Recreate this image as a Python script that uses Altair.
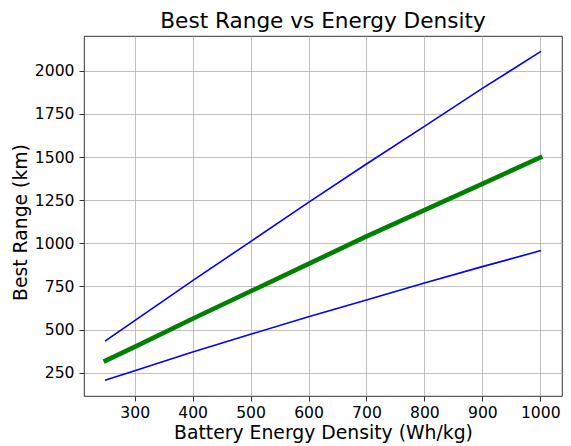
import altair as alt
import pandas as pd

density = [250, 300, 400, 500, 600, 700, 800, 900, 1000]
upper = [436, 552, 784, 1010, 1238, 1460, 1678, 1898, 2110]
best = [320, 400, 563, 722, 881, 1040, 1193, 1345, 1498]
lower = [208, 262, 370, 473, 574, 672, 770, 865, 957]

x_ticks = [300, 400, 500, 600, 700, 800, 900, 1000]
y_ticks = [250, 500, 750, 1000, 1250, 1500, 1750, 2000]

rows = []
for name, vals in [("upper", upper), ("lower", lower)]:
    for d, v in zip(density, vals):
        rows.append({"series": name, "density": d, "range": v})
blue_df = pd.DataFrame(rows)
green_df = pd.DataFrame({"density": density, "range": best})

FONT = "DejaVu Sans"

xenc = alt.X(
    "density:Q",
    scale=alt.Scale(domain=[212.5, 1037.5], nice=False, zero=False),
    axis=alt.Axis(
        values=x_ticks,
        format="d",
        title="Battery Energy Density (Wh/kg)",
        titleFontSize=18.8,
        titleFontWeight="normal",
        titleFont=FONT,
        titleColor="black",
        titleY=42,
        titleBaseline="alphabetic",
        labelFontSize=15.6,
        labelFont=FONT,
        labelColor="black",
        labelPadding=4,
        tickSize=5,
        tickColor="black",
        tickWidth=0.8,
        domain=False,
        grid=True,
        gridColor="#b0b0b0",
        gridWidth=0.8,
        labelFlush=False,
    ),
)
yenc = alt.Y(
    "range:Q",
    scale=alt.Scale(domain=[115, 2202], nice=False, zero=False),
    axis=alt.Axis(
        values=y_ticks,
        format="d",
        title="Best Range (km)",
        titleFontSize=18.8,
        titleFontWeight="normal",
        titleFont=FONT,
        titleColor="black",
        titleAngle=270,
        titleX=-63.5,
        titleY=186,
        titleAlign="center",
        titleBaseline="middle",
        labelFontSize=15.6,
        labelFont=FONT,
        labelColor="black",
        labelPadding=5,
        tickSize=5,
        tickColor="black",
        tickWidth=0.8,
        domain=False,
        grid=True,
        gridColor="#b0b0b0",
        gridWidth=0.8,
        labelFlush=False,
    ),
)

blue = alt.Chart(blue_df).mark_line(color="#0000ff", strokeWidth=1.6, strokeCap="square").encode(
    x=xenc, y=yenc, detail="series:N"
)
green = alt.Chart(green_df).mark_line(color="#008000", strokeWidth=4.6, strokeCap="square").encode(
    x=xenc, y=yenc
)

chart = (
    alt.layer(blue, green)
    .properties(
        width=478,
        height=360,
        title=alt.TitleParams(
            "Best Range vs Energy Density",
            fontSize=21.6,
            fontWeight="normal",
            font=FONT,
            color="black",
            offset=3,
            anchor="middle",
        ),
        autosize=alt.AutoSizeParams(type="none"),
        padding={"left": 76, "top": 28, "right": 1, "bottom": 50},
    )
    .configure_view(stroke="black", strokeWidth=0.8)
)

chart.save("out.html", embed_options={"renderer": "svg", "actions": False})
